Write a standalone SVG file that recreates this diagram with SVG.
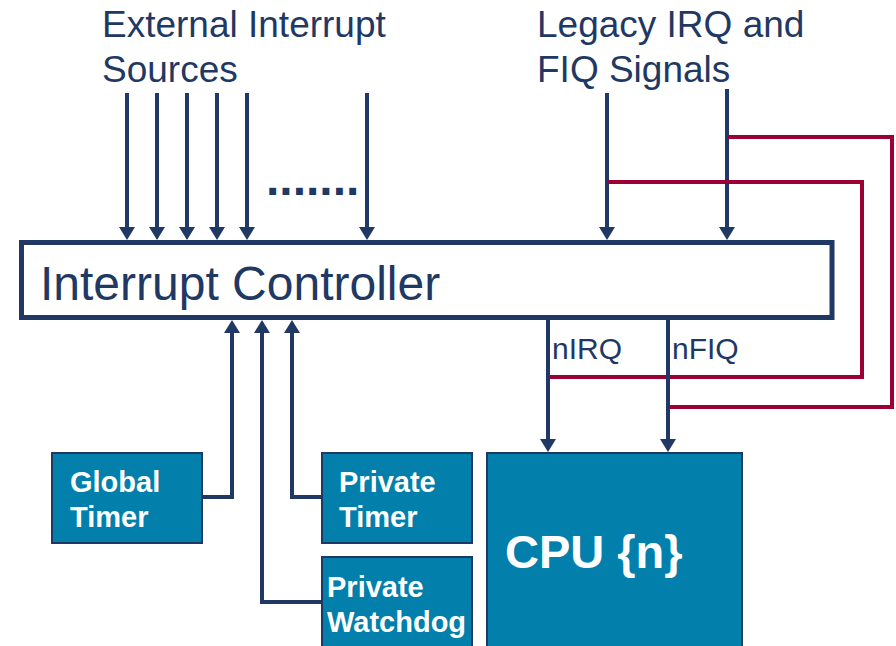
<svg xmlns="http://www.w3.org/2000/svg" width="896" height="646" viewBox="0 0 896 646">
  <style>
    .lbl { font-family: "Liberation Sans", Arial, sans-serif; fill: #1f3864; }
    .box { fill: #037fac; stroke: #1f3864; stroke-width: 2; }
    .boxtxt { font-family: "Liberation Sans", Arial, sans-serif; font-weight: bold; fill: #ffffff; }
    .wire { fill: none; stroke: #1f3864; stroke-width: 4; }
    .arrow { fill: none; stroke: #1f3864; stroke-width: 4; marker-end: url(#head); }
    .legacy { fill: none; stroke: #9b0034; stroke-width: 4; }
  </style>
  <defs>
    <marker id="head" viewBox="0 0 13 16" refX="5" refY="8" markerWidth="13" markerHeight="16" orient="auto" markerUnits="userSpaceOnUse">
      <path d="M0,0 L13,8 L0,16 z" fill="#1f3864"/>
    </marker>
  </defs>

  <rect width="896" height="646" fill="#ffffff"/>

  <!-- headings -->
  <text class="lbl" x="102" y="37" font-size="37">External Interrupt</text>
  <text class="lbl" x="102" y="82" font-size="37">Sources</text>
  <text class="lbl" x="537" y="37" font-size="37">Legacy IRQ and</text>
  <text class="lbl" x="537" y="82" font-size="37">FIQ Signals</text>
  <text class="lbl" x="266" y="195" font-size="48" font-weight="bold">.......</text>

  <!-- connectors -->
  <g id="connectors">
    <!-- external sources -->
    <path class="arrow" d="M127,93 V232"/>
    <path class="arrow" d="M157,93 V232"/>
    <path class="arrow" d="M187,93 V232"/>
    <path class="arrow" d="M217,93 V232"/>
    <path class="arrow" d="M247,93 V232"/>
    <path class="arrow" d="M367,93 V232"/>
    <!-- legacy IRQ / FIQ -->
    <path class="arrow" d="M607,93 V232"/>
    <path class="arrow" d="M727,89 V232"/>
    <!-- legacy bypass routes -->
    <path class="legacy" d="M607,182 H862 V377 H548"/>
    <path class="legacy" d="M727,137 H892 V407 H668"/>
    <!-- controller outputs -->
    <path class="arrow" d="M548,320 V444"/>
    <path class="arrow" d="M668,320 V444"/>
    <!-- timers into controller -->
    <path class="arrow" d="M202,497 H232 V328"/>
    <path class="arrow" d="M321,602 H262 V328"/>
    <path class="arrow" d="M321,497 H292 V328"/>
  </g>
  <text class="lbl" x="552" y="359" font-size="30">nIRQ</text>
  <text class="lbl" x="672" y="359" font-size="30">nFIQ</text>

  <g id="interrupt-controller">
    <rect x="21.5" y="242.5" width="810.5" height="75" fill="#ffffff" stroke="#1f3864" stroke-width="5"/>
    <text class="lbl" x="40" y="300" font-size="48">Interrupt Controller</text>
  </g>

  <g id="global-timer">
    <rect class="box" x="52" y="453" width="150" height="90"/>
    <text class="boxtxt" x="70" y="492" font-size="29">Global</text>
    <text class="boxtxt" x="70" y="527" font-size="29">Timer</text>
  </g>

  <g id="private-timer">
    <rect class="box" x="322" y="453" width="150" height="90"/>
    <text class="boxtxt" x="339" y="492" font-size="29">Private</text>
    <text class="boxtxt" x="339" y="527" font-size="29">Timer</text>
  </g>

  <g id="private-watchdog">
    <rect class="box" x="322" y="557" width="150" height="100"/>
    <text class="boxtxt" x="327" y="597" font-size="29">Private</text>
    <text class="boxtxt" x="327" y="632" font-size="29">Watchdog</text>
  </g>

  <g id="cpu">
    <rect class="box" x="487" y="453" width="255" height="210"/>
    <text class="boxtxt" x="505" y="568" font-size="47">CPU {n}</text>
  </g>
</svg>
